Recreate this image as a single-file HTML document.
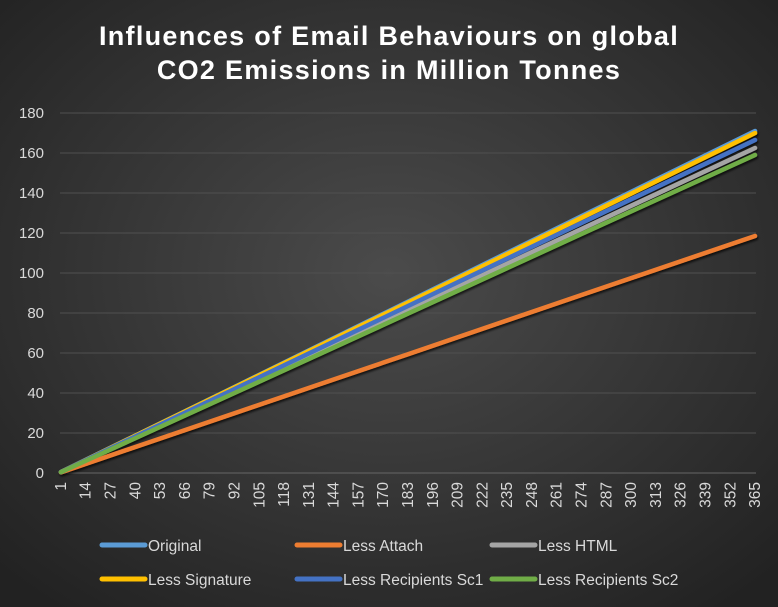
<!DOCTYPE html>
<html><head><meta charset="utf-8"><style>
body{margin:0;width:778px;height:607px;overflow:hidden;background:#2a2a2a}
svg{display:block;font-family:"Liberation Sans",sans-serif}
</style></head><body>
<svg id="c" width="778" height="607">
<defs>
<radialGradient id="bg" cx="50%" cy="45%" r="70%">
<stop offset="0" stop-color="#4b4b4b"/><stop offset="1" stop-color="#222"/>
</radialGradient>
<filter id="sh" x="-5%" y="-5%" width="110%" height="110%"><feDropShadow dx="1" dy="2" stdDeviation="1" flood-color="#000" flood-opacity="0.7"/></filter>
</defs>
<rect width="778" height="607" fill="url(#bg)"/>
<text x="389" y="45" text-anchor="middle" fill="#fff" font-size="27" font-weight="bold" letter-spacing="1.3">Influences of Email Behaviours on global</text>
<text x="389" y="79" text-anchor="middle" fill="#fff" font-size="27" font-weight="bold" letter-spacing="1.3">CO2 Emissions in Million Tonnes</text>
<g id="grid"></g><g id="ylab"></g><g id="xlab"></g><g id="lines" filter="url(#sh)"></g><g id="legend"></g>
</svg>
<script>
const days=[1,92,183,274,365];
const seriesNames=["Original","Less Attach","Less HTML","Less Signature","Less Recipients Sc1","Less Recipients Sc2"];
const seriesColors=["#5b9bd5","#ed7d31","#a5a5a5","#ffc000","#4472c4","#70ad47"];
const original=[0.5,43,85.7,128.4,171];
const lessAttach=[0.32,29.9,59.4,89,118.5];
const lessHTML=[0.45,41,81.5,122,162.5];
const lessSignature=[0.47,42.8,85.2,127.6,170];
const lessSc1=[0.46,42,83.5,125,166.5];
const lessSc2=[0.44,40,79.7,119.5,159];
const yTicks=[0,20,40,60,80,100,120,140,160,180];
const xTicks=[1,14,27,40,53,66,79,92,105,118,131,144,157,170,183,196,209,222,235,248,261,274,287,300,313,326,339,352,365];
const NS="http://www.w3.org/2000/svg";
const X0=60,X1=756,Y0=473,Y1=113;
const xs=d=>X0+(d-0.5)/365*(X1-X0);
const ys=v=>Y0-(v/180)*(Y0-Y1);
function mk(t,a,p){const e=document.createElementNS(NS,t);for(const k in a)e.setAttribute(k,a[k]);document.getElementById(p).appendChild(e);return e;}
yTicks.forEach(v=>{
 const l=mk("line",{x1:X0,x2:X1,y1:ys(v),y2:ys(v),stroke:v===0?"#666":"#505050","stroke-width":1},"grid");
 
 
 const t=mk("text",{x:44,y:ys(v)+5,"text-anchor":"end",fill:"#d9d9d9","font-size":15},"ylab");
 t.textContent=v;
 
 
});
xTicks.forEach(d=>{
 const x=xs(d)+5,y=482;
 const t=mk("text",{x:x,y:y,"text-anchor":"end",fill:"#d9d9d9","font-size":15.5,transform:`rotate(-90 ${x} ${y})`},"xlab");
 t.textContent=d;
 
 
});
const data=[original,lessAttach,lessHTML,lessSignature,lessSc1,lessSc2];
data.forEach((s,i)=>{
 const pts=s.map((v,j)=>xs(days[j])+","+ys(v)).join(" ");
 const p=mk("polyline",{points:pts,fill:"none",stroke:seriesColors[i],"stroke-width":4.5,"stroke-linecap":"round"},"lines");
 
 
});
const lx=[100,295,490],lyy=[545,579];
seriesNames.forEach((n,i)=>{
 const x=lx[i%3],y=lyy[Math.floor(i/3)];
 const l=mk("line",{x1:x+2,x2:x+45,y1:y,y2:y,stroke:seriesColors[i],"stroke-width":5,"stroke-linecap":"round"},"legend");
 
 
 const t=mk("text",{x:x+48,y:y+6,fill:"#d9d9d9","font-size":15.5},"legend");
 t.textContent=n;
 
 
});
</script>
</body></html>
